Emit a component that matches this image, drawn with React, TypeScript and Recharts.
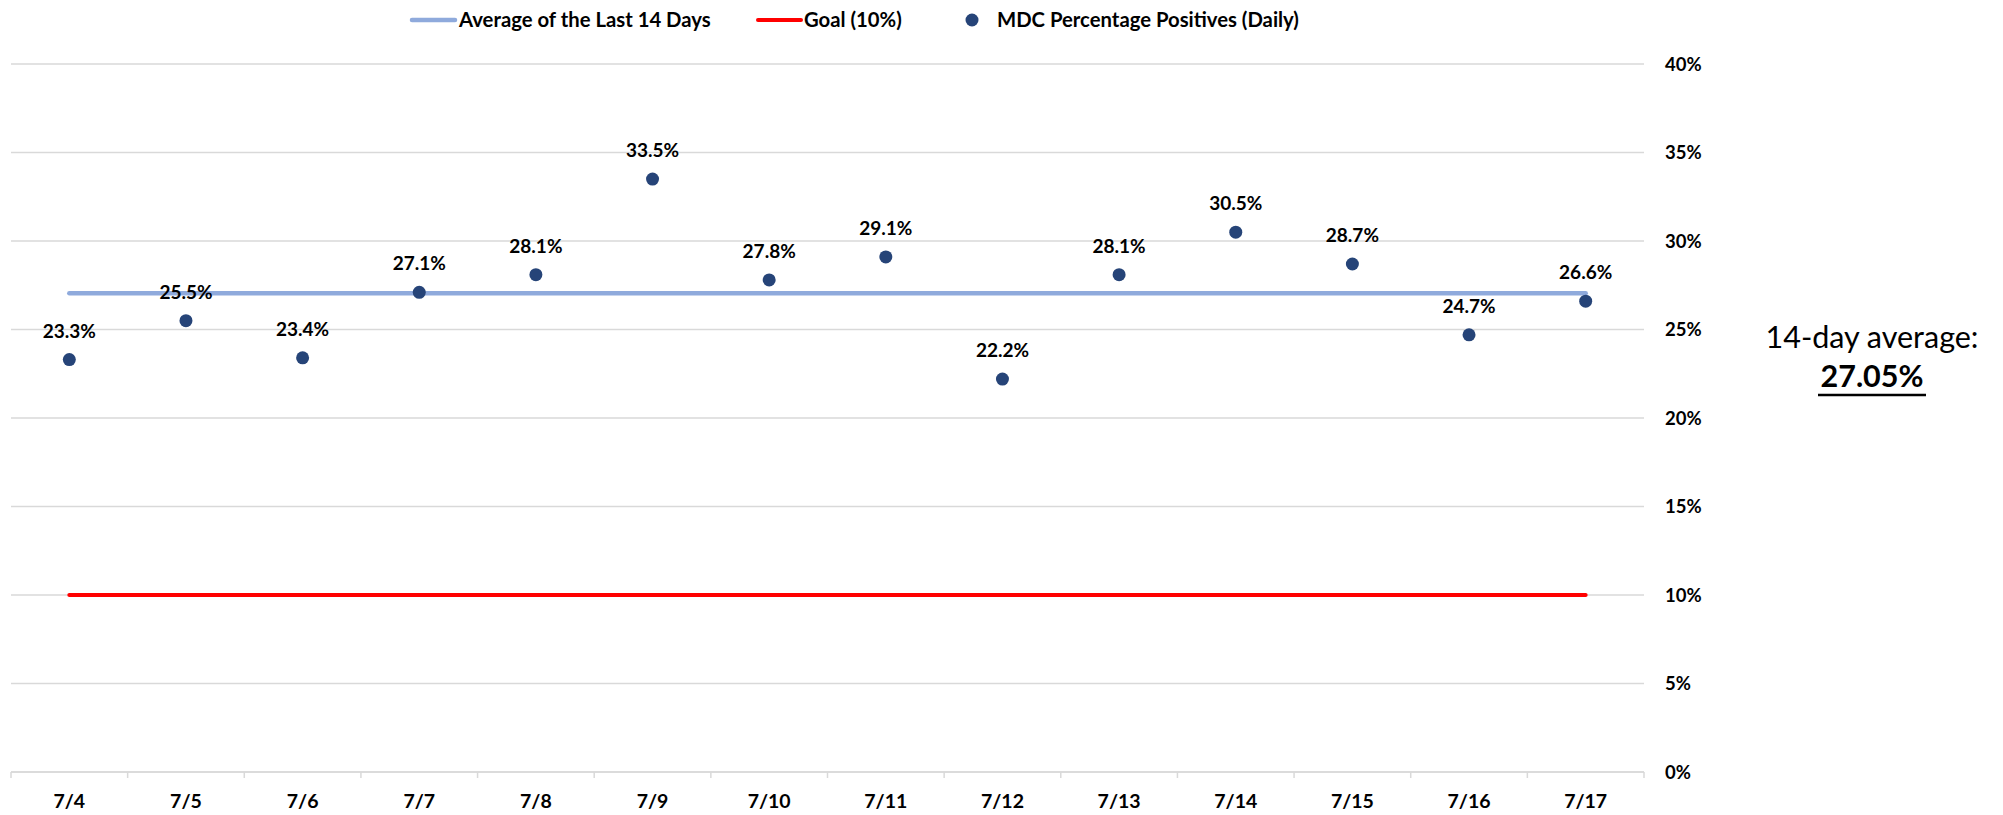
import React from "react";
import {
  ComposedChart,
  Line,
  XAxis,
  YAxis,
  CartesianGrid,
  LabelList,
} from "recharts";

const days = ["7/4", "7/5", "7/6", "7/7", "7/8", "7/9", "7/10", "7/11", "7/12", "7/13", "7/14", "7/15", "7/16", "7/17"];
const dailyPositives = [23.3, 25.5, 23.4, 27.1, 28.1, 33.5, 27.8, 29.1, 22.2, 28.1, 30.5, 28.7, 24.7, 26.6];
const average14 = 27.05;
const goal = 10;
const yTicks = [0, 5, 10, 15, 20, 25, 30, 35, 40];

const data = days.map((day, i) => ({
  day,
  daily: dailyPositives[i],
  avg: average14,
  goal,
}));

const FONT = "Lato, 'Open Sans', sans-serif";
const GRID = "#d9d9d9";
const DOT = "#264478";

function DayTick(props: any) {
  const { x, y, payload, index } = props;
  const half = payload.offset || 0;
  const last = index === days.length - 1;
  return (
    <g>
      <line x1={x - half} x2={x - half} y1={y} y2={y + 6} stroke={GRID} strokeWidth={1.5} />
      {last && <line x1={x + half} x2={x + half} y1={y} y2={y + 6} stroke={GRID} strokeWidth={1.5} />}
      <text x={x} y={y + 36} textAnchor="middle" fontFamily={FONT} fontWeight={700} fontSize={19.5} fill="#000">
        {payload.value}
      </text>
    </g>
  );
}

function Dot(props: any) {
  const { cx, cy } = props;
  if (cx == null || cy == null) return null;
  return <circle cx={cx} cy={cy} r={6.5} fill={DOT} />;
}

export default function App() {
  return (
    <div style={{ position: "absolute", left: 0, top: 0, width: 2003, height: 815, background: "#fff" }}>
      <ComposedChart
        width={2003}
        height={815}
        data={data}
        margin={{ top: 64, right: 279, bottom: 0, left: 11 }}
      >
        <CartesianGrid vertical={false} stroke={GRID} strokeWidth={1.5} />
        <XAxis
          dataKey="day"
          scale="band"
          interval={0}
          height={43}
          tickSize={0}
          tickMargin={0}
          tickLine={false}
          axisLine={{ stroke: GRID, strokeWidth: 1.5 }}
          tick={<DayTick />}
        />
        <YAxis
          orientation="right"
          width={80}
          domain={[0, 40]}
          ticks={yTicks}
          interval={0}
          axisLine={false}
          tickLine={false}
          tickSize={0}
          tickMargin={21}
          tickFormatter={(v: number) => `${v}%`}
          tick={{ fontFamily: FONT, fontWeight: 700, fontSize: 18.5, fill: "#000", textAnchor: "start" }}
        />
        <Line
          dataKey="avg"
          stroke="#8faadc"
          strokeWidth={4.5}
          strokeLinecap="round"
          dot={false}
          activeDot={false}
          isAnimationActive={false}
        />
        <Line
          dataKey="goal"
          stroke="#ff0000"
          strokeWidth={4}
          strokeLinecap="round"
          dot={false}
          activeDot={false}
          isAnimationActive={false}
        />
        <Line
          dataKey="daily"
          stroke="none"
          dot={<Dot />}
          activeDot={false}
          isAnimationActive={false}
        >
          <LabelList
            dataKey="daily"
            position="top"
            offset={22}
            formatter={(v: any) => `${Number(v).toFixed(1)}%`}
            style={{ fontFamily: FONT, fontWeight: 700, fontSize: 19, fill: "#000" }}
          />
        </Line>
      </ComposedChart>

      <svg
        width={2003}
        height={815}
        style={{ position: "absolute", left: 0, top: 0, pointerEvents: "none" }}
      >
        <g fontFamily={FONT} fontWeight={700} fontSize={20.3} fill="#000">
          <line x1={412} x2={455} y1={20} y2={20} stroke="#8faadc" strokeWidth={4.5} strokeLinecap="round" />
          <text x={459} y={27}>Average of the Last 14 Days</text>
          <line x1={758} x2={801} y1={20} y2={20} stroke="#ff0000" strokeWidth={4} strokeLinecap="round" />
          <text x={804} y={27}>Goal (10%)</text>
          <circle cx={972} cy={20} r={6.5} fill={DOT} />
          <text x={997} y={27}>MDC Percentage Positives (Daily)</text>
        </g>
        <g fontFamily={FONT} fill="#000" textAnchor="middle">
          <text x={1872} y={348} fontSize={30.5}>14-day average:</text>
          <text x={1872} y={387} fontSize={30.5} fontWeight={700}>27.05%</text>
          <line x1={1818} x2={1926} y1={395} y2={395} stroke="#000" strokeWidth={2.5} />
        </g>
      </svg>
    </div>
  );
}
